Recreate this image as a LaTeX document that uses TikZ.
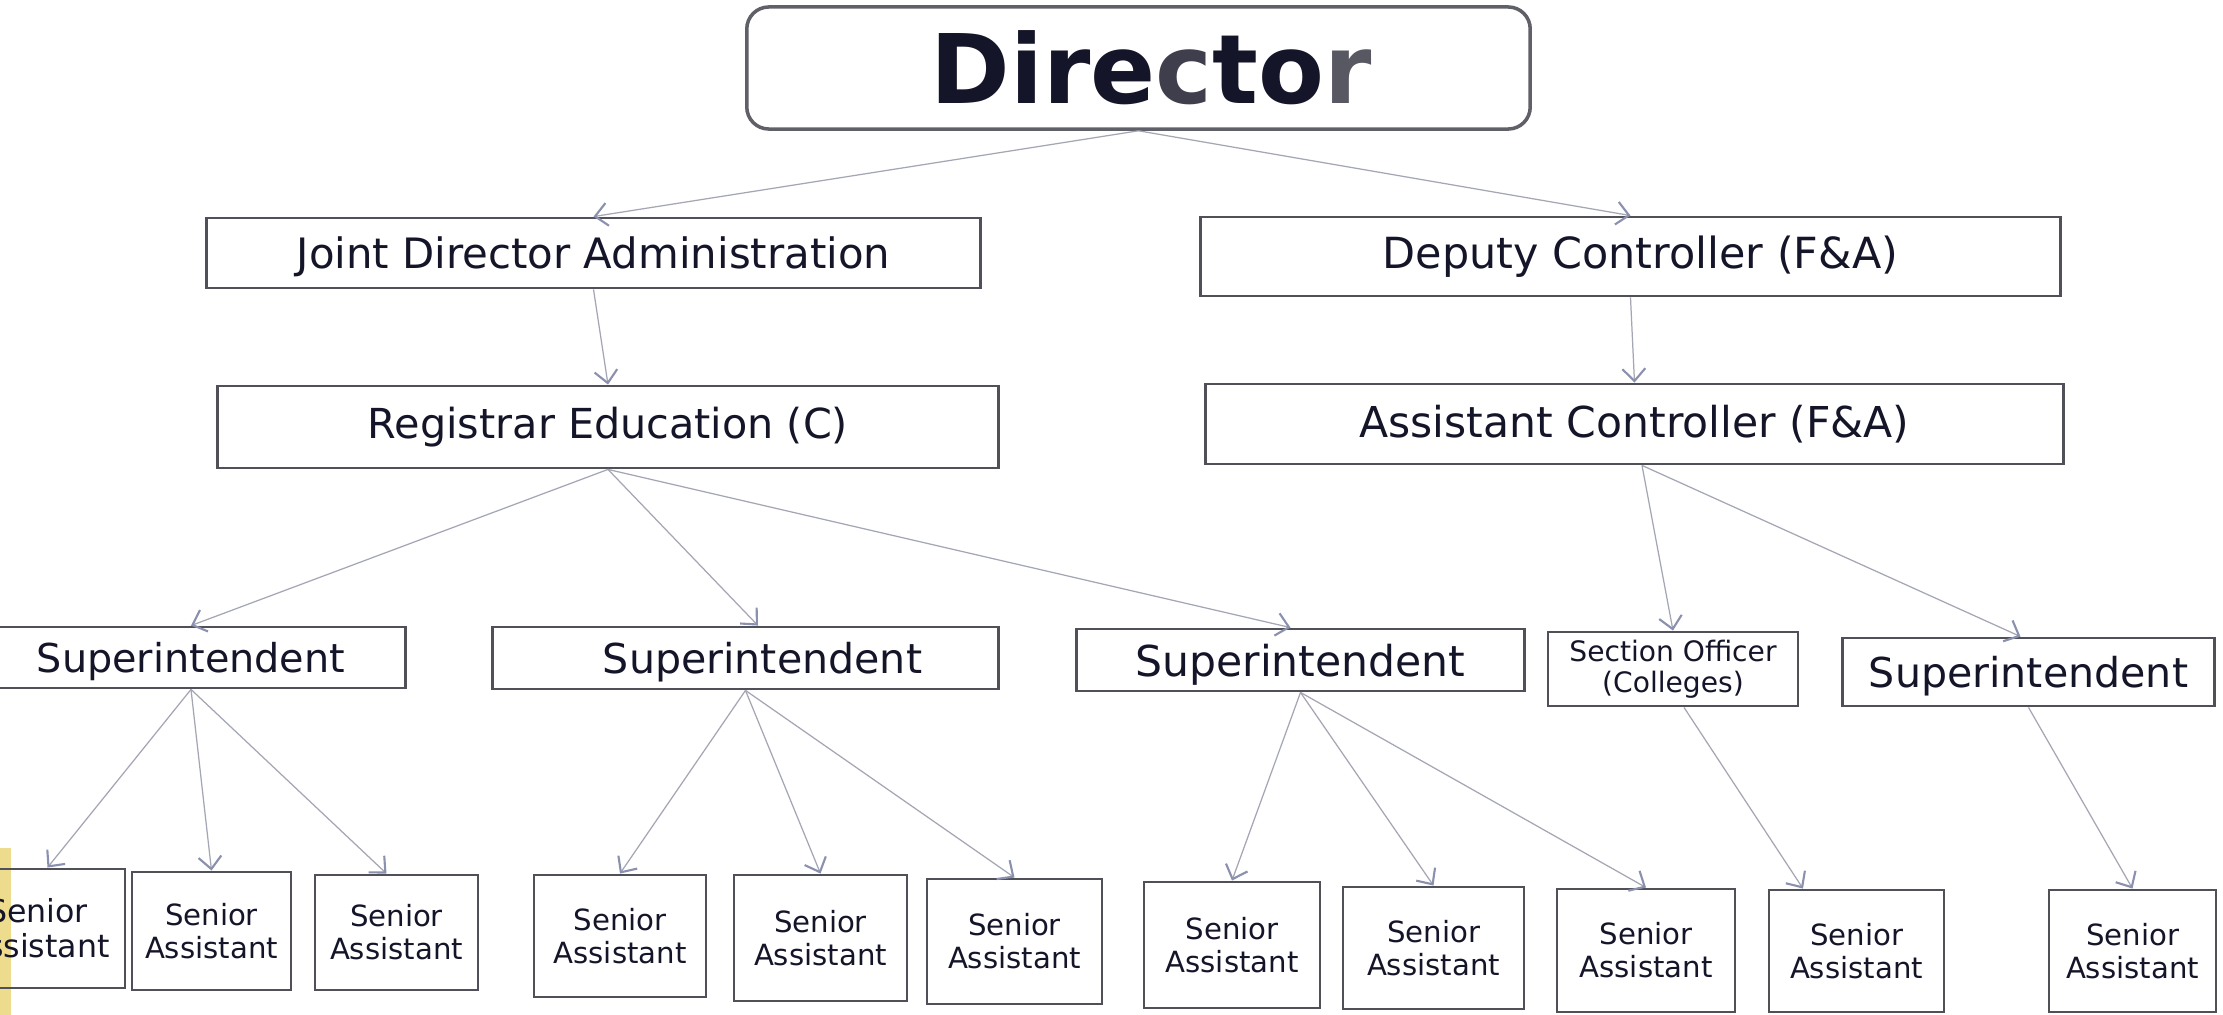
\documentclass[tikz,border=0pt]{standalone}
\usepackage{fontspec}
\setmainfont{DejaVu Sans}
\usetikzlibrary{arrows.meta}
\definecolor{txt}{HTML}{15152A}
\definecolor{boxc}{HTML}{505058}
\definecolor{dirbox}{HTML}{606068}
\definecolor{arrc}{HTML}{A4A6B4}
\definecolor{headc}{HTML}{8A90AE}
\definecolor{strip}{HTML}{EEDC8E}
\definecolor{grayc}{HTML}{3E3E4C}
\definecolor{grayr}{HTML}{585862}
\begin{document}
\begin{tikzpicture}[x=0.01cm,y=-0.01cm,
 box/.style={draw=boxc, line width=0.8pt, inner sep=0pt, align=center, text=txt, font=\fontsize{12}{14}\selectfont},
 lowbox/.style={box, text depth=0pt},
 sabox/.style={box, font=\fontsize{8.3}{9.4}\selectfont},
 secbox/.style={box, font=\fontsize{8}{8.8}\selectfont},
 arr/.style={draw=arrc, line width=0.35pt, -{Straight Barb[length=3.5pt,width=6.5pt,line width=0.6pt,color=headc]}}
]
\useasboundingbox (0,0) rectangle (2223,1015);
\clip (0,0) rectangle (2223,1015);
\fill[white] (0,0) rectangle (2223,1015);
\fill[strip] (0,848) rectangle (11,1015);

% top
\node[box, draw=dirbox, line width=1pt, rounded corners=0.22cm, minimum width=7.83cm, minimum height=1.22cm, font=\bfseries\fontsize{27.3}{30}\selectfont] (dir) at (1138.5,68) {\hspace*{0.26cm}Dire\textcolor{grayc}{c}to\textcolor{grayr}{r}};

% second level
\node[lowbox, minimum width=7.73cm, minimum height=0.70cm, font=\fontsize{11.9}{14}\selectfont] (jda) at (593.5,253) {Joint Director Administration};
\node[box, minimum width=8.59cm, minimum height=0.79cm, font=\fontsize{12.2}{14}\selectfont] (dep) at (1630.5,256.5) {\hspace*{0.2cm}Deputy Controller (F\&A)};

% third level
\node[box, minimum width=7.80cm, minimum height=0.82cm, font=\fontsize{11.75}{14}\selectfont] (reg) at (608,427) {Registrar Education (C)};
\node[box, minimum width=8.57cm, minimum height=0.80cm, font=\fontsize{12.1}{14}\selectfont] (ac) at (1634.5,424) {Assistant Controller (F\&A)};

% fourth level
\node[lowbox, minimum width=4.28cm, minimum height=0.61cm, font=\fontsize{11.3}{14}\selectfont] (sup1) at (191,657.5) {Superintendent};
\node[lowbox, minimum width=5.05cm, minimum height=0.62cm, font=\fontsize{11.7}{14}\selectfont] (sup2) at (745.5,658) {\hspace*{0.34cm}Superintendent};
\node[lowbox, minimum width=4.47cm, minimum height=0.62cm, font=\fontsize{12.1}{14}\selectfont] (sup3) at (1300.5,660) {Superintendent};
\node[secbox, minimum width=2.50cm, minimum height=0.74cm] (sec) at (1673,669) {Section Officer\\(Colleges)};
\node[lowbox, minimum width=3.71cm, minimum height=0.68cm, font=\fontsize{11.7}{14}\selectfont] (sup5) at (2028.5,672) {Superintendent};

% bottom row
\node[sabox, minimum width=1.75cm, minimum height=1.19cm, font=\fontsize{9}{10}\selectfont] (sa1) at (37.5,928.5) {Senior\\Assistant};
\node[sabox, minimum width=1.59cm, minimum height=1.18cm] (sa2) at (211.5,931) {Senior\\Assistant};
\node[sabox, minimum width=1.63cm, minimum height=1.15cm] (sa3) at (396.5,932.5) {Senior\\Assistant};
\node[sabox, minimum width=1.72cm, minimum height=1.22cm] (sa4) at (620,936) {Senior\\Assistant};
\node[sabox, minimum width=1.73cm, minimum height=1.26cm] (sa5) at (820.5,938) {Senior\\Assistant};
\node[sabox, minimum width=1.75cm, minimum height=1.25cm] (sa6) at (1014.5,941.5) {Senior\\Assistant};
\node[sabox, minimum width=1.76cm, minimum height=1.26cm] (sa7) at (1232,945) {Senior\\Assistant};
\node[sabox, minimum width=1.81cm, minimum height=1.22cm] (sa8) at (1433.5,948) {Senior\\Assistant};
\node[sabox, minimum width=1.78cm, minimum height=1.23cm] (sa9) at (1646,950.5) {Senior\\Assistant};
\node[sabox, minimum width=1.75cm, minimum height=1.22cm] (sa10) at (1856.5,951) {Senior\\Assistant};
\node[sabox, minimum width=1.67cm, minimum height=1.22cm] (sa11) at (2132.5,951) {Senior\\Assistant};

% connectors
\draw[arr] (dir.south) -- (jda.north);
\draw[arr] (dir.south) -- (dep.north);
\draw[arr] (jda.south) -- (reg.north);
\draw[arr] (dep.south) -- (ac.north);
\draw[arr] (reg.south) -- (sup1.north);
\draw[arr] (reg.south) -- ([xshift=0.125cm]sup2.north);
\draw[arr] (reg.south) -- ([xshift=-0.1cm]sup3.north);
\draw[arr] ([xshift=0.075cm]ac.south) -- (sec.north);
\draw[arr] ([xshift=0.075cm]ac.south) -- ([xshift=-0.08cm]sup5.north);
\draw[arr] (sup1.south) -- ([xshift=0.1cm]sa1.north);
\draw[arr] (sup1.south) -- (sa2.north);
\draw[arr] (sup1.south) -- ([xshift=-0.1cm]sa3.north);
\draw[arr] (sup2.south) -- (sa4.north);
\draw[arr] (sup2.south) -- (sa5.north);
\draw[arr] (sup2.south) -- (sa6.north);
\draw[arr] (sup3.south) -- (sa7.north);
\draw[arr] (sup3.south) -- (sa8.north);
\draw[arr] (sup3.south) -- (sa9.north);
\draw[arr] ([xshift=0.11cm]sec.south) -- ([xshift=-0.535cm]sa10.north);
\draw[arr] (sup5.south) -- (sa11.north);
\end{tikzpicture}
\end{document}
